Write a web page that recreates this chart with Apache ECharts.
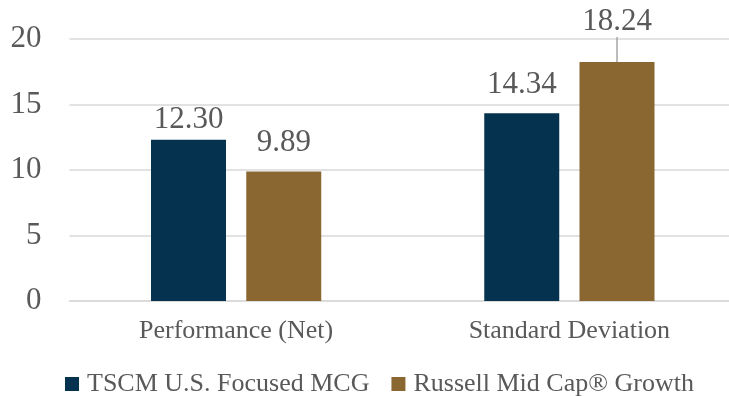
<!DOCTYPE html>
<html>
<head>
<meta charset="utf-8">
<script src="https://cdn.jsdelivr.net/npm/echarts@6/dist/echarts.min.js"></script>
<style>
  html, body { margin: 0; padding: 0; background: #ffffff; overflow: hidden; }
  #chart { width: 736px; height: 396px; }
</style>
</head>
<body>
<div id="chart"></div>
<script>
const categories = ['Performance (Net)', 'Standard Deviation'];
const seriesNames = ['TSCM U.S. Focused MCG', 'Russell Mid Cap® Growth'];
const tscmValues = [12.30, 14.34];
const russellValues = [9.89, 18.24];
const yTicks = [0, 5, 10, 15, 20];

const FONT = '"Liberation Serif", "Times New Roman", serif';
const TEXT = '#595959';
const NAVY = '#05334F';
const BROWN = '#8A6630';

function tscmItems() {
  return tscmValues.map((v, i) => ({ value: v, label: { distance: i === 0 ? 5 : 13 } }));
}
function russellItems() {
  return russellValues.map((v, i) => i === 1
    ? { value: v, label: { distance: 13, padding: [0, 0, 9, 0] }, labelLine: { show: true } }
    : { value: v, label: { distance: 13 } });
}

const chart = echarts.init(document.getElementById('chart'), null, { renderer: 'canvas' });
chart.setOption({
  animation: false,
  backgroundColor: '#ffffff',
  textStyle: { fontFamily: FONT },
  grid: { left: 69.5, top: 39, right: 0, height: 262, containLabel: false },
  legend: {
    data: seriesNames,
    left: 60,
    top: 366,
    icon: 'rect',
    itemWidth: 14,
    itemHeight: 14,
    itemGap: 22,
    textStyle: { fontFamily: FONT, fontSize: 26, color: TEXT, padding: [0, 0, 0, 3] }
  },
  xAxis: {
    type: 'category',
    data: categories,
    axisLine: { show: true, lineStyle: { color: '#D9D9D9', width: 1.5 } },
    axisTick: { show: false },
    axisLabel: { fontFamily: FONT, fontSize: 26, color: TEXT, margin: 17 }
  },
  yAxis: {
    type: 'value',
    min: yTicks[0],
    max: yTicks[yTicks.length - 1],
    interval: yTicks[1] - yTicks[0],
    axisLine: { show: false },
    axisTick: { show: false },
    splitLine: { lineStyle: { color: '#D9D9D9', width: 1.5 } },
    axisLabel: { fontFamily: FONT, fontSize: 31, color: TEXT, margin: 28 }
  },
  series: [
    {
      name: seriesNames[0],
      type: 'bar',
      data: tscmItems(),
      barWidth: 75,
      barGap: '27%',
      itemStyle: { color: NAVY },
      label: {
        show: true, position: 'top', fontFamily: FONT, fontSize: 31, color: TEXT,
        formatter: p => p.value.toFixed(2)
      }
    },
    {
      name: seriesNames[1],
      type: 'bar',
      data: russellItems(),
      barWidth: 75,
      barGap: '27%',
      itemStyle: { color: BROWN },
      label: {
        show: true, position: 'top', fontFamily: FONT, fontSize: 31, color: TEXT,
        formatter: p => p.value.toFixed(2)
      },
      labelLine: { show: false, lineStyle: { color: '#A6A6A6', width: 1.5 } },
      labelLayout: function (p) {
        if (p.dataIndex === 1) return { dy: -3 };
        return {};
      }
    }
  ]
});
</script>
</body>
</html>
